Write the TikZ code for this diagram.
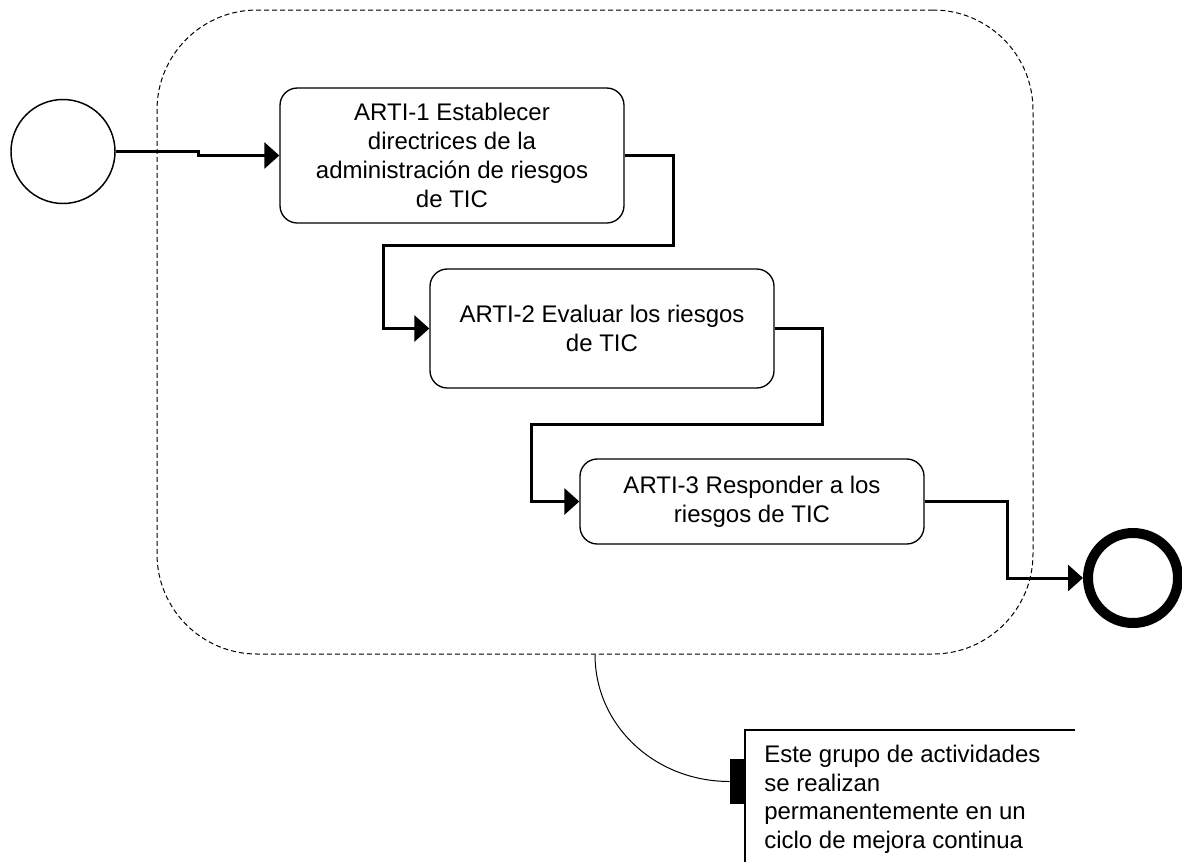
\documentclass[tikz,border=0pt]{standalone}
\usepackage{fontspec}
\setmainfont{Liberation Sans}
\usetikzlibrary{arrows.meta}

\tikzset{
  task/.style={draw, line width=1pt, rounded corners=13pt, minimum width=258pt,
    align=center, inner sep=0pt, font=\fontsize{18}{21.75}\selectfont},
  flow/.style={line width=2.25pt, -{Triangle[length=11.25pt,width=19.5pt]}},
  group/.style={draw, line width=0.75pt, dash pattern=on 3.75pt off 2.25pt,
    rounded corners=75pt, minimum width=657pt, minimum height=483pt, inner sep=0pt},
  startev/.style={draw, circle, line width=1.1pt, minimum size=78pt, inner sep=0pt},
  endev/.style={draw, circle, line width=7.5pt, minimum size=67.5pt, inner sep=0pt},
  notetext/.style={align=left, inner sep=0pt, font=\fontsize{18}{21.4}\selectfont},
}

\begin{document}
\begin{tikzpicture}[x=0.75pt, y=-0.75pt]
  \useasboundingbox (0,0) rectangle (1182,861);

  % activity group
  \node[group] (grp) at (595,332) {};

  % events
  \node[startev] (start) at (63,151.5) {};
  \node[endev] (end) at (1133,578) {};

  % activities
  \node[task, minimum height=101.25pt] (b1) at (452,155.5)
    {ARTI-1 Establecer\\directrices de la\\administración de riesgos\\de TIC};
  \node[task, minimum height=89.25pt] (b2) at (602,328.5)
    {ARTI-2 Evaluar los riesgos\\de TIC};
  \node[task, minimum height=63.75pt] (b3) at (752,501.5)
    {ARTI-3 Responder a los\\riesgos de TIC};

  % sequence flows
  \draw[flow] (start.east) -- ++(83,0) |- (b1.west);
  \draw[flow] (b1.east) -- ++(49,0) |- (383,245) |- (b2.west);
  \draw[flow] (b2.east) -- ++(48,0) |- (531,424) |- (b3.west);
  \draw[flow] (b3.east) -- ++(83,0) |- (end.west);

  % annotation
  \node[fill=black, minimum width=10.5pt, minimum height=33.75pt, inner sep=0pt]
    (bar) at (737,781.5) {};
  \coordinate (ncorner) at (745,730);
  \coordinate (nright) at (1075,730);
  \coordinate (nbottom) at (745,870);
  \draw[line width=1pt] (nright) -- (ncorner) -- (nbottom);
  \node[notetext, anchor=north west] (note) at (764,745)
    {Este grupo de actividades\\se realizan\\permanentemente en un\\ciclo de mejora continua};
  \draw[line width=0.75pt] (grp.south) .. controls ++(0,71) and ++(-75,0) .. (bar.west);
\end{tikzpicture}
\end{document}
